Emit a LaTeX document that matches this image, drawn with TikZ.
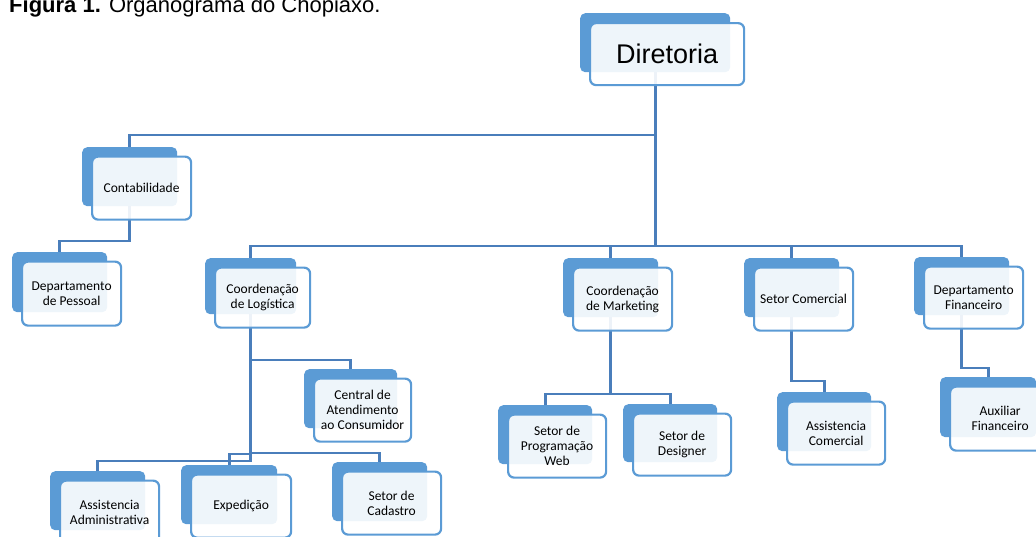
\documentclass[tikz,border=0pt]{standalone}
\usepackage{fontspec}
\setmainfont{Carlito}
\newfontfamily\arialf{Liberation Sans}
\usetikzlibrary{backgrounds}
\definecolor{boxblue}{HTML}{5B9BD5}
\definecolor{linkblue}{HTML}{4A7EBB}
\tikzset{
  backbox/.style={draw=none, fill=boxblue, rounded corners=5pt, anchor=north west, inner sep=0pt},
  frontbox/.style={draw=boxblue, line width=2.2pt, fill=white, fill opacity=0.9, text opacity=1,
    rounded corners=6pt, anchor=north west, inner sep=0pt, align=center,
    font=\fontsize{13.5}{15}\selectfont},
  link/.style={draw=linkblue, line width=2.7pt},
}
% name, x, y, back width, back height, text
\newcommand\orgnode[6]{%
  \node[backbox, minimum width=#4pt, minimum height=#5pt] (#1-b) at (#2,#3) {};
  \node[frontbox, minimum width=#4pt+4pt, minimum height=#5pt+4pt] (#1) at (#2+9,#3+8.5) {#6};
}
\begin{document}
\begin{tikzpicture}[x=1pt,y=-1pt]
\useasboundingbox (0,0) rectangle (1036,536);
\clip (0,0) rectangle (1036,536);

\node[anchor=base west, inner sep=0pt, font=\arialf\fontsize{22}{26}\selectfont] (title) at (9,12)
  {\textbf{Figura 1.} Organograma do Chopiaxo.};

\node[backbox, minimum width=150pt, minimum height=59pt] (dir-b) at (580,13) {};
\node[frontbox, minimum width=154pt, minimum height=62pt, font=\arialf\fontsize{27}{32}\selectfont] (dir) at (589,22) {Diretoria};

\orgnode{cont}{82}{147}{95}{59}{Contabilidade}
\orgnode{pess}{12}{252}{95}{60}{Departamento\\de Pessoal}
\orgnode{log}{205}{258}{91}{56}{Coordenação\\de Logística}
\orgnode{mkt}{563}{258}{95}{59}{Coordenação\\de Marketing}
\orgnode{com}{744}{258}{95}{59}{Setor Comercial}
\orgnode{fin}{914}{257}{95}{58}{Departamento\\Financeiro}
\orgnode{cen}{304}{369}{93}{59}{Central de\\Atendimento\\ao Consumidor}
\orgnode{web}{498}{405}{94}{59}{Setor de\\Programação\\Web}
\orgnode{des}{623}{404}{94}{58}{Setor de\\Designer}
\orgnode{asc}{777}{392}{94}{59}{Assistencia\\Comercial}
\orgnode{aux}{940}{377}{96}{60}{Auxiliar\\Financeiro}
\orgnode{adm}{50}{471}{95}{59}{Assistencia\\Administrativa}
\orgnode{exp}{181}{465}{96}{59}{Expedição}
\orgnode{cad}{332}{462}{95}{59}{Setor de\\Cadastro}

\coordinate (busA) at (0,135);
\coordinate (busB) at (0,246);
\coordinate (busC) at (0,241);
\coordinate (busD) at (0,360);
\coordinate (busE) at (0,461);
\coordinate (busF) at (0,454);
\coordinate (busG) at (0,453);
\coordinate (busH) at (0,394);
\coordinate (busI) at (0,381);
\coordinate (busJ) at (0,368);

\begin{pgfonlayer}{background}
\draw[link] (dir-b.south) |- (cont-b.north |- busA) -- (cont-b.north);
\draw[link] (dir-b.south) |- (log-b.north |- busB) -- (log-b.north);
\draw[link] (dir-b.south) |- (mkt-b.north |- busB) -- (mkt-b.north);
\draw[link] (dir-b.south) |- (com-b.north |- busB) -- (com-b.north);
\draw[link] (dir-b.south) |- (fin-b.north |- busB) -- (fin-b.north);
\draw[link] (cont-b.south) |- (pess-b.north |- busC) -- (pess-b.north);
\draw[link] (log-b.south) |- (cen-b.north |- busD) -- (cen-b.north);
\draw[link] (log-b.south) |- (adm-b.north |- busE) -- (adm-b.north);
\draw[link] (log-b.south) |- (exp-b.north |- busF) -- (exp-b.north);
\draw[link] (log-b.south) |- (cad-b.north |- busG) -- (cad-b.north);
\draw[link] (mkt-b.south) |- (web-b.north |- busH) -- (web-b.north);
\draw[link] (mkt-b.south) |- (des-b.north |- busH) -- (des-b.north);
\draw[link] (com-b.south) |- (asc-b.north |- busI) -- (asc-b.north);
\draw[link] (fin-b.south) |- (aux-b.north |- busJ) -- (aux-b.north);
\end{pgfonlayer}
\end{tikzpicture}
\end{document}
